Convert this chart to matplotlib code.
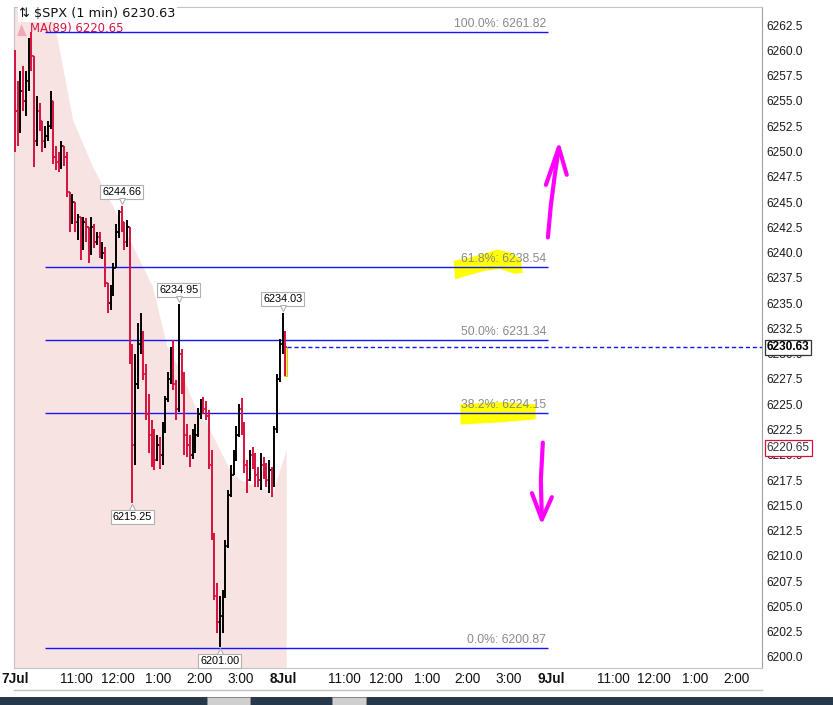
import numpy as np
import matplotlib
matplotlib.use("Agg")
import matplotlib.pyplot as plt
from matplotlib.patches import Polygon, Rectangle
from matplotlib.lines import Line2D
from matplotlib.transforms import blended_transform_factory, offset_copy

W, H, DPI = 833, 705, 100
RED, BLUE, PINK, GRAY = "#d6123e", "#1414ff", "#f8e3e3", "#8a8a8a"
MAGENTA, YELLOW = "#ff00ff", "#ffff00"
SANS = ["Liberation Sans", "DejaVu Sans"]
NARROW = ["Liberation Sans Narrow", "Liberation Sans", "DejaVu Sans"]

# chart time = minutes after 9:30 on 7 Jul, one session takes 393 chart minutes
DAY = 393
BAR_MIN = 4
open_price = 6259.75

bar_close = [6254.0, 6252.0, 6256.0, 6255.0, 6257.0, 6260.0, 6259.5, 6251.0, 6254.0, 6253.0,
             6251.0, 6251.5, 6252.5, 6255.0, 6249.5, 6249.0, 6248.5, 6250.5, 6249.5, 6246.0,
             6243.5, 6245.0, 6243.0, 6243.5, 6240.5, 6243.0, 6242.5, 6240.0, 6242.5, 6241.0,
             6241.5, 6240.0, 6240.0, 6237.0, 6235.0, 6236.5, 6238.5, 6242.0, 6244.0, 6243.0,
             6241.0, 6242.5, 6230.0, 6221.0, 6227.0, 6231.0, 6232.0, 6228.0, 6224.0, 6222.0,
             6220.0, 6219.5, 6221.0, 6220.0, 6222.5, 6225.5, 6227.5, 6229.5, 6227.0, 6224.5,
             6230.0, 6228.0, 6222.0, 6221.0, 6220.0, 6221.5, 6222.0, 6224.0, 6225.0, 6224.5,
             6223.8, 6219.0, 6212.0, 6206.0, 6203.5, 6204.0, 6206.0, 6211.0, 6216.0, 6218.0,
             6219.5, 6222.0, 6224.5, 6223.0, 6219.0, 6217.5, 6220.0, 6219.0, 6218.0, 6217.5,
             6219.0, 6218.0, 6217.5, 6218.5, 6217.0, 6222.5, 6227.5, 6231.0, 6232.0, 6230.63]
bar_high = [6260.0, 6257.0, 6258.0, 6258.5, 6258.0, 6261.2, 6261.82, 6259.5, 6255.5, 6254.8,
            6253.0, 6252.5, 6253.0, 6256.0, 6255.0, 6250.5, 6250.0, 6251.0, 6250.2, 6250.0,
            6245.8, 6245.8, 6244.0, 6243.8, 6242.0, 6243.5, 6243.4, 6242.0, 6243.5, 6242.8,
            6242.0, 6242.0, 6241.0, 6240.6, 6236.6, 6236.8, 6239.0, 6242.8, 6244.2, 6244.66,
            6242.5, 6243.2, 6242.5, 6231.0, 6230.0, 6233.0, 6234.0, 6232.2, 6229.0, 6226.0,
            6223.4, 6222.5, 6222.0, 6221.8, 6223.2, 6225.8, 6228.2, 6230.7, 6231.4, 6227.4,
            6234.95, 6230.5, 6228.2, 6223.0, 6222.0, 6222.5, 6223.0, 6224.6, 6225.5, 6225.7,
            6225.3, 6224.4, 6220.5, 6212.3, 6207.3, 6206.0, 6206.6, 6211.6, 6216.5, 6219.0,
            6220.5, 6222.8, 6225.0, 6225.6, 6223.2, 6219.5, 6220.5, 6220.8, 6220.2, 6218.8,
            6220.2, 6219.8, 6219.2, 6219.5, 6218.8, 6222.8, 6228.0, 6231.5, 6234.03, 6232.2]
bar_low = [6250.0, 6250.5, 6251.8, 6254.0, 6253.5, 6256.0, 6258.0, 6248.5, 6250.5, 6252.0,
           6250.0, 6250.3, 6251.0, 6252.2, 6248.8, 6248.2, 6248.0, 6248.3, 6248.6, 6245.5,
           6242.0, 6242.8, 6242.0, 6241.2, 6239.3, 6240.3, 6241.0, 6239.0, 6239.8, 6240.5,
           6240.8, 6239.5, 6239.4, 6236.6, 6234.0, 6234.3, 6235.7, 6238.5, 6241.4, 6242.0,
           6240.3, 6240.6, 6229.0, 6215.25, 6219.0, 6226.5, 6230.0, 6227.4, 6223.4, 6220.2,
           6218.8, 6218.5, 6219.4, 6218.6, 6219.0, 6222.2, 6225.2, 6227.0, 6226.4, 6223.4,
           6224.2, 6226.0, 6220.0, 6219.8, 6218.8, 6219.6, 6220.2, 6221.8, 6223.5, 6224.0,
           6223.4, 6218.6, 6211.6, 6205.6, 6202.4, 6201.00, 6202.4, 6205.8, 6210.8, 6215.8,
           6218.0, 6219.4, 6221.8, 6222.0, 6218.2, 6216.2, 6217.4, 6218.6, 6216.8, 6216.8,
           6216.5, 6217.6, 6216.8, 6216.2, 6215.8, 6216.8, 6222.2, 6227.2, 6230.0, 6227.8]

# MA(89) outline (shaded area under it)
ma_t = [0, 58, 61, 85, 114, 139, 173, 202, 223, 242, 266, 281, 315, 329, 369, 376, 398]
ma_val = [6270.0, 6262.8, 6261.7, 6253.1, 6248.5, 6245.2, 6240.6, 6236.6, 6230.7, 6228.4,
          6224.4, 6223.1, 6218.5, 6217.5, 6216.5, 6215.8, 6220.5]
ma_last = 6220.65
last_price = 6230.63

fib_pct = ["100.0%", "61.8%", "50.0%", "38.2%", "0.0%"]
fib_val = [6261.82, 6238.54, 6231.34, 6224.15, 6200.87]
fib_from, fib_to = 44, 780

# swing callouts: bar index, shown above (+1) or below (-1)
callout_bar = [39, 60, 98, 43, 75]
callout_side = [1, 1, 1, -1, -1]

day_labels = ["7Jul", "8Jul", "9Jul"]
hour_offsets = [90, 150, 210, 270, 330]
hour_labels = ["11:00", "12:00", "1:00", "2:00", "3:00"]

bar_t = np.arange(len(bar_close)) * BAR_MIN
bar_open = np.r_[open_price, bar_close[:-1]]
bar_close = np.array(bar_close)
bar_high = np.maximum(np.array(bar_high), np.maximum(bar_open, bar_close))
bar_low = np.minimum(np.array(bar_low), np.minimum(bar_open, bar_close))

fig = plt.figure(figsize=(W / DPI, H / DPI), dpi=DPI)
ax = fig.add_axes([14 / W, 37 / H, 748 / W, 661 / H])
ax.set_xlim(-1.5, 1094)
ax.set_ylim(6198.9, 6264.3)

# MA area
ax.fill_between(ma_t, ma_val, 6150, color=PINK, lw=0, zorder=1)

# highlighter marks (hand drawn)
hl_618 = [(644, 6239.1), (666, 6239.4), (688, 6239.8), (706, 6240.2), (725, 6239.9),
          (739, 6239.3), (742, 6238.1), (732, 6238.0), (710, 6238.5), (688, 6238.3),
          (666, 6237.9), (646, 6237.5)]
hl_382 = [(654, 6224.9), (710, 6225.1), (761, 6224.9), (761, 6223.6), (710, 6223.3), (654, 6223.1)]
for pts in (hl_618, hl_382):
    ax.add_patch(Polygon(pts, closed=True, fc=YELLOW, ec=YELLOW, lw=1.5, zorder=2))

# fib levels
for pct, v in zip(fib_pct, fib_val):
    ax.hlines(v, fib_from, fib_to, color=BLUE, lw=1.0, zorder=3)
    ax.annotate(f"{pct}: {v:.2f}", (fib_to - 2, v), xytext=(0, 1.5), textcoords="offset points",
                ha="right", va="bottom", fontsize=8.8, color=GRAY, family=SANS, zorder=4)

# current bar highlight + last price line
ax.add_patch(Rectangle((bar_t[-1] - 2.6, bar_low[-1]), 5.2, bar_close[-1] - bar_low[-1],
                       fc="#f4f07a", ec="#e0c800", lw=0.8, zorder=3))
ax.hlines(last_price, bar_t[-1] + 2, 1094, color=BLUE, lw=1.0, linestyles=(0, (3, 2)), zorder=3)

# OHLC bars
cols = np.where(bar_close >= bar_open, "black", RED)
ax.vlines(bar_t, bar_low, bar_high, colors=cols, lw=1.4, zorder=5)
ax.hlines(bar_open, bar_t - 2.2, bar_t, colors=cols, lw=1.2, zorder=5)
ax.hlines(bar_close, bar_t, bar_t + 2.2, colors=cols, lw=1.2, zorder=5)

# swing callouts
for i, side in zip(callout_bar, callout_side):
    v = bar_high[i] if side > 0 else bar_low[i]
    ax.annotate(f"{v:.2f}", (bar_t[i], v), xytext=(0, 10 * side), textcoords="offset points",
                ha="center", va="center", fontsize=7.8, family=SANS, color="black", zorder=7,
                bbox=dict(boxstyle="square,pad=0.18", fc="white", ec="#b0b0b0", lw=0.8))
    tri = offset_copy(ax.transData, fig=fig, x=0, y=3.2 * side, units="points")
    ax.plot(bar_t[i], v, marker="v" if side > 0 else "^", ms=4.5, mfc="white", mec="#b0b0b0",
            mew=0.8, transform=tri, zorder=8, clip_on=False)

# hand drawn arrows
arrow_kw = dict(color=MAGENTA, lw=3.0, solid_capstyle="round", solid_joinstyle="round", zorder=9)
ax.plot([780.4, 784.8, 790.6, 796.5], [6241.5, 6244.7, 6247.7, 6250.4], **arrow_kw)
ax.plot([777.5, 796.5, 808.0], [6246.7, 6250.4, 6247.7], **arrow_kw)
ax.plot([773.0, 770.1, 771.6], [6221.2, 6217.5, 6213.6], **arrow_kw)
ax.plot([757.0, 771.6, 786.2], [6216.2, 6213.6, 6215.8], **arrow_kw)

# axes styling
for s in ("left", "top", "bottom"):
    ax.spines[s].set_color("#c4c4c4")
ax.spines["right"].set_color("#a0a0a0")
ax.spines["right"].set_linestyle((0, (1, 1)))
ax.yaxis.tick_right()
ax.set_yticks(np.arange(6200, 6263, 2.5))
ax.set_yticklabels([f"{v:.1f}" for v in np.arange(6200, 6263, 2.5)], family=SANS, fontsize=8.6,
                   color="#1a1a1a")
ax.tick_params(axis="y", length=0, pad=3.5)

xt, xl = [], []
for d, name in enumerate(day_labels):
    xt.append(d * DAY)
    xl.append(name)
    for off, lab in zip(hour_offsets, hour_labels):
        if d * DAY + off < 1090:
            xt.append(d * DAY + off)
            xl.append(lab)
ax.set_xticks(xt)
ax.set_xticklabels(xl, family=NARROW, fontsize=9.8, color="#111111")
for t in ax.get_xticklabels():
    if "Jul" in t.get_text():
        t.set_fontweight("bold")
ax.tick_params(axis="x", length=0, pad=3)

# header + legend
ax.text(0.007, 0.9995, "⇅ $SPX (1 min) 6230.63", transform=ax.transAxes, ha="left", va="top",
        fontsize=9.3, family=["DejaVu Sans"], color="#111111", zorder=10,
        bbox=dict(boxstyle="square,pad=0.12", fc="white", ec="none"))
ax.text(0.022, 0.978, "MA(89) 6220.65", transform=ax.transAxes, ha="left", va="top",
        fontsize=8.4, family=["DejaVu Sans"], color=RED, zorder=2)
ax.add_patch(Polygon([(0.004, 0.956), (0.010, 0.974), (0.017, 0.956)], closed=True,
                     transform=ax.transAxes, fc="#f2a9b6", ec="none", zorder=2))

# right-axis value tags
yb = blended_transform_factory(ax.transAxes, ax.transData)
ax.text(1.0065, last_price, f"{last_price:.2f}", transform=yb, ha="left", va="center",
        fontsize=8.6, fontweight="bold", family=SANS, color="black", zorder=11, clip_on=False,
        bbox=dict(boxstyle="square,pad=0.15", fc="white", ec="#333333", lw=0.9))
ax.text(1.0065, ma_last, f"{ma_last:.2f}", transform=yb, ha="left", va="center",
        fontsize=8.6, family=SANS, color="#333333", zorder=11, clip_on=False,
        bbox=dict(boxstyle="square,pad=0.15", fc="white", ec=RED, lw=0.9))

# screenshot frame below the chart
fig.add_artist(Line2D([14 / W, 762 / W], [15 / H, 15 / H], color="#c4c4c4", lw=1))
fig.add_artist(Rectangle((0, 0), 1, 8 / H, transform=fig.transFigure, fc="#26384a", ec="none"))
for x0, x1 in ((207, 250), (332, 366)):
    fig.add_artist(Rectangle((x0 / W, 0), (x1 - x0) / W, 8 / H, transform=fig.transFigure,
                             fc="#cfcfcf", ec="#8a8a8a", lw=0.6))

fig.savefig("out.png", dpi=DPI)
